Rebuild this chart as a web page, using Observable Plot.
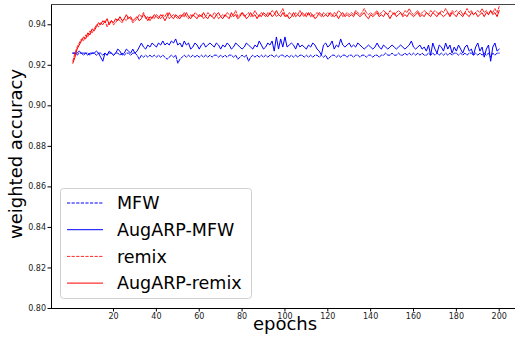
<!DOCTYPE html>
<html>
<head>
<meta charset="utf-8">
<script src="https://cdn.jsdelivr.net/npm/d3@7"></script>
<script src="https://cdn.jsdelivr.net/npm/@observablehq/plot@0.6"></script>
<style>
  html, body { margin: 0; padding: 0; background: #fff; }
  #chart { width: 515px; height: 343px; }
</style>
</head>
<body>
<div id="chart"></div>
<script>
const seriesNames = ["MFW", "AugARP-MFW", "remix", "AugARP-remix"];
const seriesColors = ["#0000ff", "#0000ff", "#ff0000", "#ff0000"];
const seriesDashed = [true, false, true, false];
const xTicks = [20, 40, 60, 80, 100, 120, 140, 160, 180, 200];
const yTicks = [0.80, 0.82, 0.84, 0.86, 0.88, 0.90, 0.92, 0.94];
const xLabel = "epochs";
const yLabel = "weighted accuracy";

const mfw = [
0.926,0.926,0.925,0.926,0.926,0.925,0.926,0.926,0.925,0.926,
0.926,0.925,0.926,0.926,0.925,0.926,0.925,0.926,0.926,0.925,
0.926,0.926,0.925,0.926,0.925,0.926,0.926,0.925,0.926,0.926,
0.925,0.923,0.925,0.924,0.925,0.924,0.925,0.924,0.925,0.924,
0.925,0.924,0.925,0.924,0.923,0.924,0.925,0.924,0.925,0.921,
0.923,0.924,0.925,0.924,0.925,0.924,0.925,0.924,0.925,0.924,
0.925,0.924,0.925,0.924,0.925,0.924,0.925,0.925,0.924,0.925,
0.924,0.925,0.924,0.925,0.925,0.924,0.925,0.923,0.924,0.925,
0.924,0.925,0.922,0.924,0.925,0.924,0.925,0.924,0.925,0.924,
0.925,0.924,0.925,0.925,0.924,0.925,0.924,0.925,0.925,0.924,
0.925,0.924,0.925,0.924,0.925,0.924,0.925,0.925,0.924,0.925,
0.924,0.925,0.924,0.925,0.925,0.924,0.925,0.924,0.925,0.923,
0.924,0.925,0.925,0.924,0.925,0.924,0.925,0.925,0.924,0.925,
0.925,0.924,0.925,0.925,0.924,0.925,0.925,0.924,0.925,0.925,
0.924,0.925,0.925,0.924,0.925,0.925,0.926,0.925,0.925,0.926,
0.925,0.925,0.926,0.925,0.925,0.926,0.925,0.926,0.925,0.926,
0.925,0.926,0.925,0.926,0.925,0.925,0.926,0.925,0.926,0.925,
0.926,0.925,0.926,0.925,0.926,0.925,0.926,0.925,0.926,0.926,
0.925,0.926,0.925,0.926,0.925,0.926,0.926,0.925,0.926,0.925,
0.926,0.925,0.926,0.925,0.926,0.924,0.926,0.925,0.926,0.926
];
const augMfw = [
0.926,0.926,0.926,0.927,0.926,0.926,0.926,0.925,0.926,0.926,
0.926,0.927,0.926,0.924,0.922,0.926,0.925,0.927,0.926,0.925,
0.926,0.928,0.927,0.925,0.926,0.928,0.927,0.926,0.928,0.926,
0.927,0.929,0.931,0.929,0.928,0.930,0.929,0.931,0.930,0.929,
0.931,0.930,0.932,0.930,0.931,0.930,0.932,0.931,0.933,0.930,
0.931,0.929,0.932,0.930,0.931,0.928,0.929,0.931,0.930,0.928,
0.930,0.931,0.929,0.930,0.931,0.930,0.929,0.931,0.930,0.928,
0.930,0.929,0.931,0.930,0.928,0.929,0.931,0.930,0.929,0.928,
0.929,0.931,0.930,0.929,0.928,0.930,0.929,0.932,0.930,0.928,
0.929,0.931,0.930,0.932,0.927,0.934,0.928,0.933,0.929,0.934,
0.929,0.930,0.931,0.930,0.928,0.931,0.929,0.930,0.929,0.928,
0.930,0.929,0.931,0.930,0.928,0.927,0.925,0.930,0.931,0.929,
0.930,0.932,0.928,0.930,0.929,0.933,0.930,0.929,0.930,0.931,
0.929,0.930,0.929,0.931,0.930,0.929,0.928,0.929,0.930,0.929,
0.928,0.929,0.931,0.929,0.928,0.930,0.929,0.928,0.929,0.930,
0.929,0.928,0.929,0.930,0.929,0.928,0.929,0.930,0.932,0.929,
0.928,0.929,0.930,0.928,0.929,0.927,0.930,0.925,0.931,0.928,
0.926,0.930,0.929,0.927,0.931,0.928,0.930,0.926,0.929,0.927,
0.930,0.928,0.926,0.929,0.930,0.927,0.928,0.925,0.929,0.931,
0.927,0.929,0.924,0.928,0.930,0.922,0.929,0.931,0.927,0.928
];
const remix = [
0.922,0.926,0.929,0.931,0.933,0.932,0.935,0.934,0.937,0.936,
0.938,0.940,0.939,0.941,0.940,0.942,0.939,0.941,0.942,0.940,
0.941,0.943,0.942,0.941,0.943,0.942,0.944,0.943,0.941,0.942,
0.943,0.945,0.944,0.946,0.943,0.944,0.942,0.944,0.943,0.945,
0.944,0.943,0.945,0.944,0.946,0.943,0.944,0.945,0.944,0.943,
0.945,0.944,0.946,0.944,0.943,0.945,0.944,0.946,0.945,0.944,
0.945,0.943,0.944,0.946,0.945,0.944,0.946,0.945,0.943,0.944,
0.945,0.944,0.946,0.945,0.944,0.945,0.947,0.944,0.945,0.946,
0.944,0.945,0.946,0.944,0.945,0.947,0.945,0.944,0.946,0.945,
0.944,0.946,0.945,0.947,0.946,0.944,0.945,0.946,0.948,0.945,
0.944,0.946,0.945,0.944,0.946,0.945,0.947,0.945,0.944,0.946,
0.945,0.946,0.944,0.945,0.946,0.945,0.944,0.946,0.945,0.946,
0.945,0.944,0.946,0.945,0.947,0.946,0.944,0.945,0.946,0.945,
0.946,0.945,0.947,0.946,0.945,0.946,0.948,0.946,0.945,0.946,
0.945,0.946,0.947,0.945,0.946,0.947,0.946,0.945,0.947,0.946,
0.945,0.946,0.947,0.946,0.945,0.947,0.946,0.948,0.946,0.945,
0.946,0.947,0.945,0.946,0.947,0.946,0.945,0.947,0.946,0.947,
0.946,0.945,0.947,0.946,0.948,0.946,0.945,0.947,0.946,0.947,
0.946,0.947,0.945,0.946,0.948,0.946,0.947,0.945,0.946,0.947,
0.946,0.948,0.946,0.947,0.945,0.947,0.946,0.948,0.946,0.949
];
const augRemix = [
0.921,0.924,0.928,0.930,0.932,0.934,0.933,0.936,0.935,0.938,
0.937,0.939,0.941,0.940,0.942,0.941,0.943,0.940,0.942,0.941,
0.943,0.942,0.944,0.942,0.943,0.945,0.943,0.944,0.942,0.943,
0.944,0.942,0.943,0.945,0.944,0.942,0.944,0.943,0.945,0.944,
0.943,0.945,0.944,0.942,0.944,0.946,0.944,0.943,0.945,0.944,
0.943,0.945,0.944,0.946,0.944,0.943,0.945,0.944,0.943,0.945,
0.944,0.946,0.944,0.943,0.945,0.944,0.943,0.945,0.946,0.944,
0.943,0.945,0.944,0.943,0.946,0.944,0.945,0.943,0.944,0.946,
0.945,0.943,0.944,0.946,0.944,0.945,0.943,0.945,0.944,0.946,
0.945,0.944,0.946,0.944,0.945,0.947,0.945,0.944,0.946,0.944,
0.945,0.943,0.944,0.946,0.944,0.945,0.944,0.946,0.945,0.944,
0.946,0.944,0.945,0.943,0.944,0.946,0.945,0.944,0.945,0.944,
0.946,0.945,0.944,0.945,0.943,0.945,0.946,0.944,0.945,0.944,
0.945,0.944,0.946,0.945,0.944,0.945,0.946,0.944,0.943,0.945,
0.944,0.945,0.946,0.944,0.945,0.944,0.946,0.945,0.943,0.945,
0.946,0.944,0.945,0.946,0.944,0.945,0.944,0.946,0.945,0.944,
0.945,0.946,0.944,0.945,0.944,0.946,0.945,0.944,0.946,0.945,
0.944,0.946,0.945,0.944,0.945,0.946,0.944,0.946,0.945,0.944,
0.946,0.945,0.944,0.946,0.945,0.944,0.946,0.945,0.946,0.944,
0.945,0.946,0.944,0.946,0.945,0.947,0.945,0.946,0.944,0.947
];
const seriesValues = [mfw, augMfw, remix, augRemix];

const xDomain = [-8.95, 207.6];
const yDomain = [0.80, 0.95];

const marks = [];
seriesValues.forEach((vals, i) => {
  const rows = vals.map((v, k) => ({epoch: k + 1, value: v}));
  marks.push(Plot.line(rows, {
    x: "epoch", y: "value",
    stroke: seriesColors[i],
    strokeWidth: 1,
    strokeDasharray: seriesDashed[i] ? "3.2,1.4" : null,
    strokeOpacity: i === 2 ? 0.85 : 1
  }));
});

const font = "DejaVu Sans, sans-serif";
const chart = Plot.plot({
  width: 515,
  height: 343,
  marginLeft: 51,
  marginRight: 0,
  marginTop: 4,
  marginBottom: 35,
  style: {fontFamily: font, background: "#fff", color: "#222"},
  x: {domain: xDomain, label: null},
  y: {domain: yDomain, label: null},
  marks: [
    Plot.axisX({ticks: xTicks, tickSize: 3.5, tickPadding: 1, fontSize: 8, label: null, stroke: "#000"}),
    Plot.axisY({ticks: yTicks, tickSize: 3.5, tickPadding: 2, fontSize: 8, label: null, tickFormat: d3.format(".2f"), stroke: "#000"}),
    ...marks,
    Plot.ruleX([xDomain[0]], {stroke: "#000", strokeWidth: 1}),
    Plot.ruleY([yDomain[0]], {stroke: "#000", strokeWidth: 1}),
    Plot.ruleY([yDomain[1]], {stroke: "#444", strokeWidth: 1})
  ]
});
document.getElementById("chart").appendChild(chart);

const svg = d3.select(chart);
// axis titles
svg.append("text")
  .attr("x", 285).attr("y", 330)
  .attr("text-anchor", "middle")
  .attr("font-family", font).attr("font-size", 18).attr("fill", "#000")
  .text(xLabel);
svg.append("text")
  .attr("transform", "translate(22,154) rotate(-90)")
  .attr("text-anchor", "middle")
  .attr("font-family", font).attr("font-size", 18).attr("fill", "#000")
  .text(yLabel);

// legend
const lg = svg.append("g").attr("text-anchor", "start");
lg.append("rect")
  .attr("x", 60.5).attr("y", 188.5).attr("width", 191).attr("height", 110)
  .attr("rx", 3).attr("fill", "#fff").attr("fill-opacity", 0.85)
  .attr("stroke", "#d0d0d0").attr("stroke-width", 1);
seriesNames.forEach((name, i) => {
  const cy = 203 + i * 26.7;
  lg.append("line")
    .attr("x1", 67).attr("x2", 103).attr("y1", cy).attr("y2", cy)
    .attr("stroke", seriesColors[i]).attr("stroke-width", 1)
    .attr("stroke-opacity", i === 2 ? 0.85 : 1)
    .attr("stroke-dasharray", seriesDashed[i] ? "3.2,1.4" : null);
  lg.append("text")
    .attr("x", 117).attr("y", cy).attr("dy", "0.36em")
    .attr("text-anchor", "start")
    .attr("font-family", font).attr("font-size", 17.5).attr("fill", "#000")
    .text(name);
});
</script>
</body>
</html>
